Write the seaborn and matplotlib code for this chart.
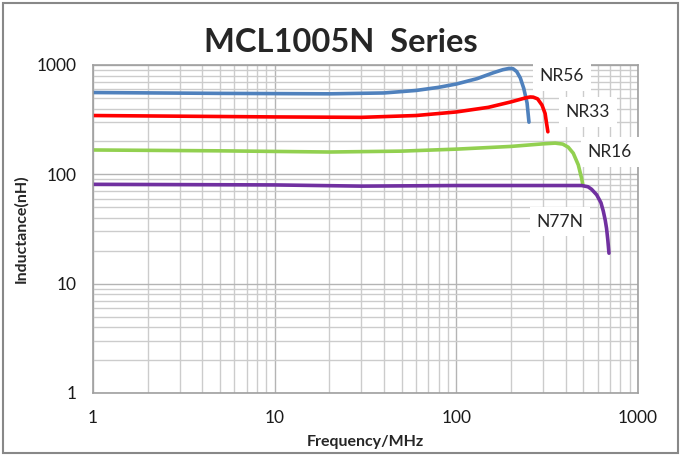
import numpy as np
import pandas as pd
import matplotlib
matplotlib.use("Agg")
import matplotlib.pyplot as plt
import seaborn as sns
from matplotlib.patches import Rectangle
from matplotlib.ticker import LogLocator, NullFormatter, FixedLocator, FixedFormatter

# =====================================================
# DATA
# =====================================================

nr56_freq = [1, 5, 20, 40, 60, 80, 100, 130, 160, 180, 195, 205, 215, 225, 235, 245, 251]
nr56_ind = [560, 550, 545, 555, 585, 625, 670, 750, 850, 905, 930, 925, 870, 760, 610, 450, 300]

nr33_freq = [1, 10, 30, 60, 100, 150, 200, 240, 255, 265, 280, 296, 308, 313, 319]
nr33_ind = [345, 335, 332, 345, 372, 410, 460, 500, 510, 508, 490, 430, 360, 300, 245]

nr16_freq = [1, 5, 20, 50, 100, 200, 300, 350, 385, 413, 440, 469, 489, 497]
nr16_ind = [167, 164, 160, 163, 170, 180, 190, 193, 189, 177, 156, 122, 92, 80]

n77n_freq = [1, 10, 30, 100, 250, 404, 489, 530, 555, 592, 625, 644, 660, 671, 682, 692]
n77n_ind = [81, 80, 78, 79, 79, 79, 79, 77, 73, 65, 55, 46, 38, 32, 25, 19]

series_names = ["NR56", "NR33", "NR16", "N77N"]
series_colors = ["#4F81BD", "#FF0000", "#92D050", "#7030A0"]

# label positions (freq, inductance)
label_pos = [(381, 790), (530, 372), (700, 160), (372, 37)]

x_ticks = [1, 10, 100, 1000]
y_ticks = [1, 10, 100, 1000]

# =====================================================
# FIGURE
# =====================================================

sns.set_style("white")
plt.rcParams["font.family"] = ["Lato", "DejaVu Sans"]

fig = plt.figure(figsize=(6.81, 4.59), dpi=100)
ax = fig.add_axes([0.1366, 0.1438, 0.8003, 0.7146])

all_freq = [nr56_freq, nr33_freq, nr16_freq, n77n_freq]
all_ind = [nr56_ind, nr33_ind, nr16_ind, n77n_ind]

for freq, ind, color in zip(all_freq, all_ind, series_colors):
    sns.lineplot(
        x=freq,
        y=ind,
        color=color,
        linewidth=2.6,
        sort=False,
        estimator=None,
        ax=ax
    )

ax.set_xscale("log")
ax.set_yscale("log")
ax.set_xlim(1, 1000)
ax.set_ylim(1, 1000)

# grid
ax.xaxis.set_minor_locator(LogLocator(base=10, subs=np.arange(2, 10)))
ax.yaxis.set_minor_locator(LogLocator(base=10, subs=np.arange(2, 10)))
ax.xaxis.set_minor_formatter(NullFormatter())
ax.yaxis.set_minor_formatter(NullFormatter())
ax.grid(True, which="major", color="#B4B4B4", linewidth=1.0)
ax.grid(True, which="minor", color="#CCCCCC", linewidth=1.0)
ax.set_axisbelow(True)

ax.xaxis.set_major_locator(FixedLocator(x_ticks))
ax.xaxis.set_major_formatter(FixedFormatter([str(t) for t in x_ticks]))
ax.yaxis.set_major_locator(FixedLocator(y_ticks))
ax.yaxis.set_major_formatter(FixedFormatter([str(t) for t in y_ticks]))
ax.tick_params(which="both", length=0)
ax.tick_params(axis="x", pad=12, labelsize=12.5, labelcolor="#1a1a1a")
ax.tick_params(axis="y", pad=12, labelsize=12.5, labelcolor="#1a1a1a")

for side in ax.spines.values():
    side.set_color("#A0A0A0")
    side.set_linewidth(1.2)

ax.set_xlabel("Frequency/MHz", fontsize=11.5, fontweight="bold", labelpad=7)
ax.set_ylabel("Inductance(nH)", fontsize=11.5, fontweight="bold", labelpad=6)

# series labels in white boxes
for name, (fx, fy) in zip(series_names, label_pos):
    ax.text(
        fx, fy, name,
        fontsize=12.5,
        ha="center", va="center",
        bbox=dict(boxstyle="square,pad=0.4", facecolor="white", edgecolor="none"),
        zorder=5
    )

fig.text(0.5, 0.908, "MCL1005N  Series", ha="center", va="center",
         fontsize=23.5, fontweight="bold")

# outer chart border
fig.patches.append(Rectangle((0.005, 0.013), 0.99, 0.98, transform=fig.transFigure,
                             fill=False, edgecolor="#888888", linewidth=1.5))

fig.savefig("out.png", dpi=100)
